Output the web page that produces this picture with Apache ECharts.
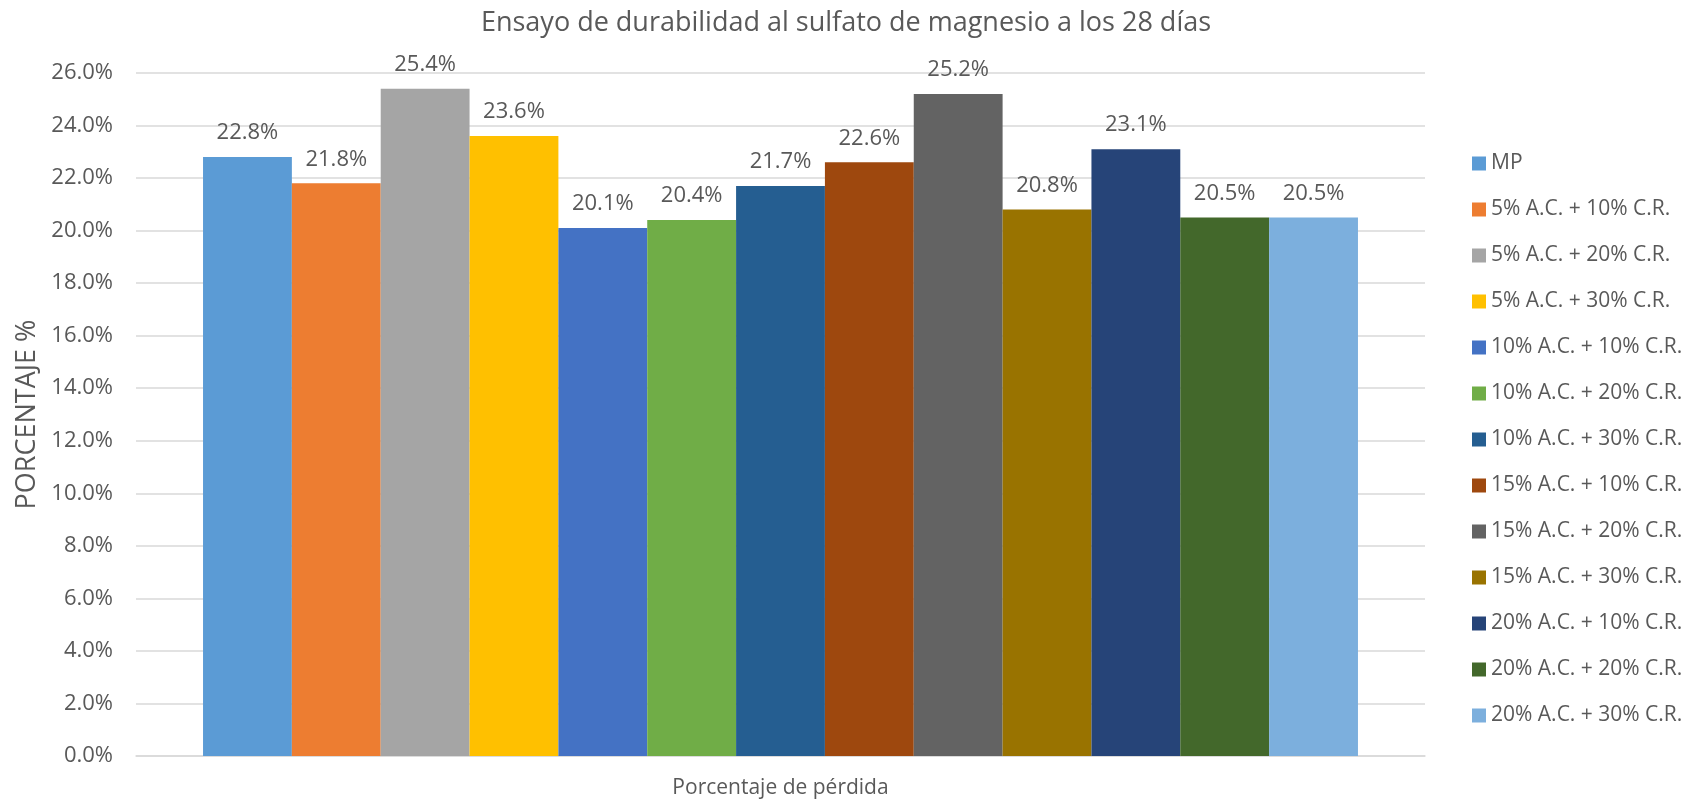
<!DOCTYPE html>
<html>
<head>
<meta charset="utf-8">
<script src="https://cdn.jsdelivr.net/npm/echarts@6/dist/echarts.min.js"></script>
<style>
  html, body { margin: 0; padding: 0; background: #fff; }
  #chart { width: 1692px; height: 802px; }
</style>
</head>
<body>
<div id="chart"></div>
<script>
const categories = ["Porcentaje de pérdida"];
const seriesNames = [
  "MP",
  "5% A.C. + 10% C.R.",
  "5% A.C. + 20% C.R.",
  "5% A.C. + 30% C.R.",
  "10% A.C. + 10% C.R.",
  "10% A.C. + 20% C.R.",
  "10% A.C. + 30% C.R.",
  "15% A.C. + 10% C.R.",
  "15% A.C. + 20% C.R.",
  "15% A.C. + 30% C.R.",
  "20% A.C. + 10% C.R.",
  "20% A.C. + 20% C.R.",
  "20% A.C. + 30% C.R."
];
const lossValues = [22.8, 21.8, 25.4, 23.6, 20.1, 20.4, 21.7, 22.6, 25.2, 20.8, 23.1, 20.5, 20.5];
const palette = [
  "#5B9BD5", "#ED7D31", "#A5A5A5", "#FFC000", "#4472C4", "#70AD47", "#255E91",
  "#9E480E", "#636363", "#997300", "#264478", "#43682B", "#7CAFDD"
];

const font = "'Open Sans', 'Noto Sans', sans-serif";
const textColor = "#595959";

const chart = echarts.init(document.getElementById("chart"));

chart.setOption({
  color: palette,
  animation: false,
  textStyle: { fontFamily: font, color: textColor },
  title: {
    text: "Ensayo de durabilidad al sulfato de magnesio a los 28 días",
    left: "center",
    top: 5,
    textStyle: { fontFamily: font, fontSize: 27, fontWeight: "normal", color: textColor }
  },
  legend: {
    orient: "vertical",
    left: 1467,
    top: 148,
    itemWidth: 14,
    itemHeight: 14,
    itemGap: 25,
    icon: "rect",
    textStyle: { fontFamily: font, fontSize: 21, color: textColor, lineHeight: 20 },
    data: seriesNames
  },
  grid: { left: 136, right: 267, top: 73, bottom: 46 },
  xAxis: {
    type: "category",
    data: categories,
    axisTick: { show: false },
    axisLine: { lineStyle: { color: "#D9D9D9", width: 1.5 } },
    axisLabel: { margin: 22, fontSize: 21, color: textColor, fontFamily: font }
  },
  yAxis: {
    type: "value",
    min: 0,
    max: 26,
    interval: 2,
    name: "PORCENTAJE %",
    nameLocation: "middle",
    nameGap: 95,
    nameTextStyle: { fontSize: 27, color: textColor, fontFamily: font },
    axisLine: { show: false },
    axisTick: { show: false },
    axisLabel: {
      margin: 23,
      fontSize: 22,
      color: textColor,
      fontFamily: font,
      formatter: (v) => v.toFixed(1) + "%"
    },
    splitLine: { lineStyle: { color: "#D9D9D9", width: 1.5 } }
  },
  series: seriesNames.map((name, i) => ({
    name: name,
    type: "bar",
    barGap: 0,
    barCategoryGap: "10.4%",
    data: [lossValues[i]],
    label: {
      show: true,
      position: "top",
      distance: 13,
      fontSize: 22,
      color: textColor,
      fontFamily: font,
      formatter: (p) => p.value.toFixed(1) + "%"
    }
  }))
});
</script>
</body>
</html>
